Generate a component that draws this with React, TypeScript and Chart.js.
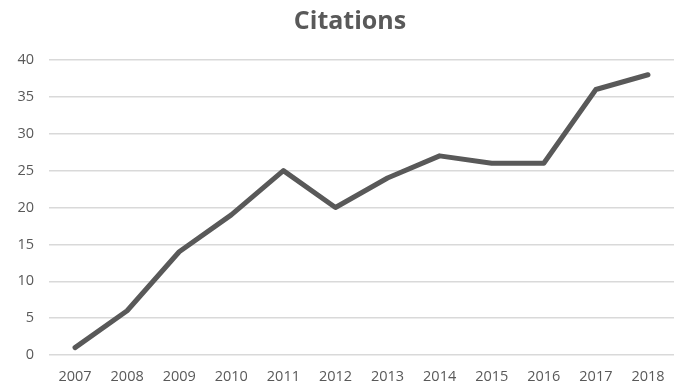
import React, { useEffect, useRef } from "react";
import { Chart, registerables } from "chart.js";

Chart.register(...registerables);

const years = ["2007", "2008", "2009", "2010", "2011", "2012", "2013", "2014", "2015", "2016", "2017", "2018"];
const citations = [1, 6, 14, 19, 25, 20, 24, 27, 26, 26, 36, 38];
const chartTitle = "Citations";

const titlePlugin = {
  id: "centeredTitle",
  afterDraw(chart: any) {
    const ctx = chart.ctx;
    ctx.save();
    ctx.font = "bold 25px 'Open Sans'";
    ctx.fillStyle = "#595959";
    ctx.textAlign = "center";
    ctx.textBaseline = "alphabetic";
    ctx.fillText(chartTitle, 350, 29);
    ctx.restore();
  },
};

export default function App() {
  const ref = useRef<HTMLCanvasElement | null>(null);
  useEffect(() => {
    document.body.style.margin = "0";
    const canvas = ref.current!;
    const chart = new Chart(canvas, {
      type: "line",
      data: {
        labels: years,
        datasets: [
          {
            label: chartTitle,
            data: citations,
            borderColor: "#595959",
            borderWidth: 5,
            pointRadius: 0,
            tension: 0,
            borderJoinStyle: "round",
            borderCapStyle: "round",
          },
        ],
      },
      options: {
        responsive: false,
        animation: false,
        layout: { padding: { left: 0, right: 7, top: 60, bottom: 0 } },
        plugins: {
          legend: { display: false },
          tooltip: { enabled: false },
          title: { display: false },
        },
        scales: {
          x: {
            offset: true,
            grid: { display: false, drawTicks: false },
            border: { display: false },
            ticks: { color: "#595959", font: { family: "Open Sans", size: 14.5 }, padding: 13, maxRotation: 0, autoSkip: false },
            afterFit: (s: any) => { s.height = 34; },
          },
          y: {
            min: 0,
            max: 40,
            ticks: { stepSize: 5, color: "#595959", font: { family: "Open Sans", size: 14.5 }, padding: 15 },
            grid: { color: "#d9d9d9", lineWidth: 1.5, drawTicks: false },
            border: { display: false },
            afterFit: (s: any) => { s.width = 49; },
          },
        },
      },
      plugins: [titlePlugin],
    });
    return () => chart.destroy();
  }, []);
  return <canvas ref={ref} width={681} height={389} style={{ display: "block" }} />;
}
